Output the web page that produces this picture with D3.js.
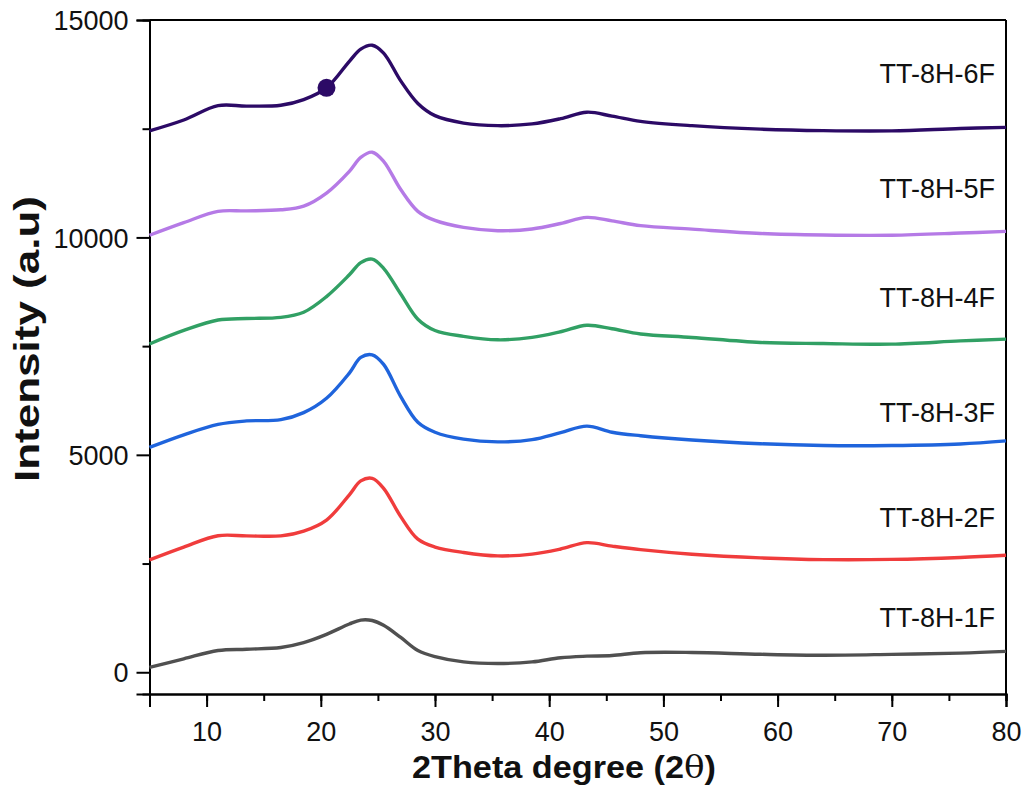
<!DOCTYPE html>
<html><head><meta charset="utf-8">
<script src="https://cdn.jsdelivr.net/npm/d3@7"></script>
<style>body{margin:0;background:#fff}text{font-family:"Liberation Sans",Arial,sans-serif}</style>
</head><body><svg id="c" width="1025" height="787"></svg>
<script>
const theta = [5,8,11,13.5,16.5,18.5,20.5,22.5,23.5,24.5,25.5,27,28.5,30,32.5,35.5,38.5,41,43.3,45.5,48,52.5,58.5,64,70,76,80];
const s1F = [110,310,500,530,568,680,870,1110,1200,1190,1080,800,500,360,238,200,238,335,370,385,450,455,414,392,412,440,480];
const s2F = [2585,2880,3140,3136,3136,3245,3500,4080,4400,4460,4230,3580,3060,2880,2755,2676,2718,2835,2980,2900,2820,2715,2630,2590,2595,2640,2690];
const s3F = [5170,5460,5700,5780,5810,5970,6300,6880,7240,7300,7080,6340,5750,5520,5360,5298,5350,5510,5660,5520,5440,5340,5255,5215,5215,5250,5320];
const s4F = [7550,7860,8100,8135,8160,8280,8640,9140,9420,9500,9290,8700,8120,7860,7725,7645,7700,7830,7980,7900,7780,7700,7585,7560,7545,7620,7660];
const s5F = [10050,10340,10600,10610,10635,10720,11020,11520,11840,11960,11750,11100,10600,10390,10230,10155,10195,10320,10460,10380,10270,10190,10090,10055,10050,10100,10140];
const s6F = [12450,12700,13030,13020,13040,13170,13440,14050,14330,14420,14240,13600,13080,12800,12630,12570,12610,12730,12880,12790,12670,12570,12490,12455,12450,12505,12530];
const seriesNames = ["TT-8H-1F","TT-8H-2F","TT-8H-3F","TT-8H-4F","TT-8H-5F","TT-8H-6F"];
const seriesValues = [s1F,s2F,s3F,s4F,s5F,s6F];
const seriesColors = ["#505050","#f03c3c","#1f64dc","#31a064","#b57ae6","#2c0a66"];
const labelValues = [1050,3350,5750,8400,10900,13550];
const markerPoint = [20.5, 13440];
const xTicks = [10,20,30,40,50,60,70,80];
const yTicks = [0,5000,10000,15000];

const svg = d3.select("#c");
const L=149.5,R=1006,T=20,B=694;
const x = d3.scaleLinear().domain([5,80]).range([L,R]);
const y = d3.scaleLinear().domain([-500,15000]).range([B,T]);

svg.append("line").attr("x1",L).attr("x2",R).attr("y1",T).attr("y2",T).attr("stroke","#000").attr("stroke-width",2);
svg.append("line").attr("x1",R).attr("x2",R).attr("y1",T).attr("y2",B).attr("stroke","#000").attr("stroke-width",2);

svg.append("g").attr("transform",`translate(0,${B})`)
  .call(d3.axisBottom(x).tickValues(d3.range(5,81,5)).tickSize(7).tickFormat(""));
const xb = svg.append("g").attr("transform",`translate(0,${B})`)
  .call(d3.axisBottom(x).tickValues(xTicks).tickSize(13).tickPadding(15).tickFormat(d3.format("d")));
svg.append("g").attr("transform",`translate(${L},0)`)
  .call(d3.axisLeft(y).tickValues([2500,7500,12500]).tickSize(7).tickFormat(""));
const yb = svg.append("g").attr("transform",`translate(${L},0)`)
  .call(d3.axisLeft(y).tickValues(yTicks).tickSize(13).tickPadding(8).tickFormat(d3.format("d")));
svg.selectAll(".domain").attr("stroke","#000").attr("stroke-width",2);
svg.selectAll(".tick line").attr("stroke","#000").attr("stroke-width",2);
svg.selectAll(".tick text").attr("font-size",27).attr("fill","#111").attr("font-family","Liberation Sans, Arial, sans-serif");
yb.selectAll(".tick text").attr("dy","0.36em");

const line = d3.line().x((d,i)=>x(theta[i])).y(d=>y(d)).curve(d3.curveCatmullRom.alpha(0.5));
const g = svg.append("g");
seriesValues.forEach((vals,k)=>{
  g.append("path").attr("d",line(vals)).attr("fill","none").attr("stroke",seriesColors[k]).attr("stroke-width",3.4).attr("stroke-linejoin","round");
  svg.append("text").attr("x",995).attr("y",y(labelValues[k])).attr("text-anchor","end")
    .attr("font-size",27).attr("fill","#111").text(seriesNames[k]);
});
svg.append("circle").attr("cx",x(markerPoint[0])).attr("cy",y(markerPoint[1])).attr("r",9).attr("fill",seriesColors[5]);

svg.append("text").attr("x",412).attr("y",778).attr("font-size",32).attr("font-weight","bold").attr("fill","#111")
  .attr("textLength",304).attr("lengthAdjust","spacingAndGlyphs")
  .html('2Theta degree (2<tspan font-weight="normal" font-family="DejaVu Serif">θ</tspan>)');
svg.append("text").attr("transform","translate(39,482) rotate(-90)").attr("font-size",35).attr("font-weight","bold").attr("fill","#111")
  .attr("textLength",286).attr("lengthAdjust","spacingAndGlyphs")
  .text("Intensity (a.u)");
</script></body></html>
